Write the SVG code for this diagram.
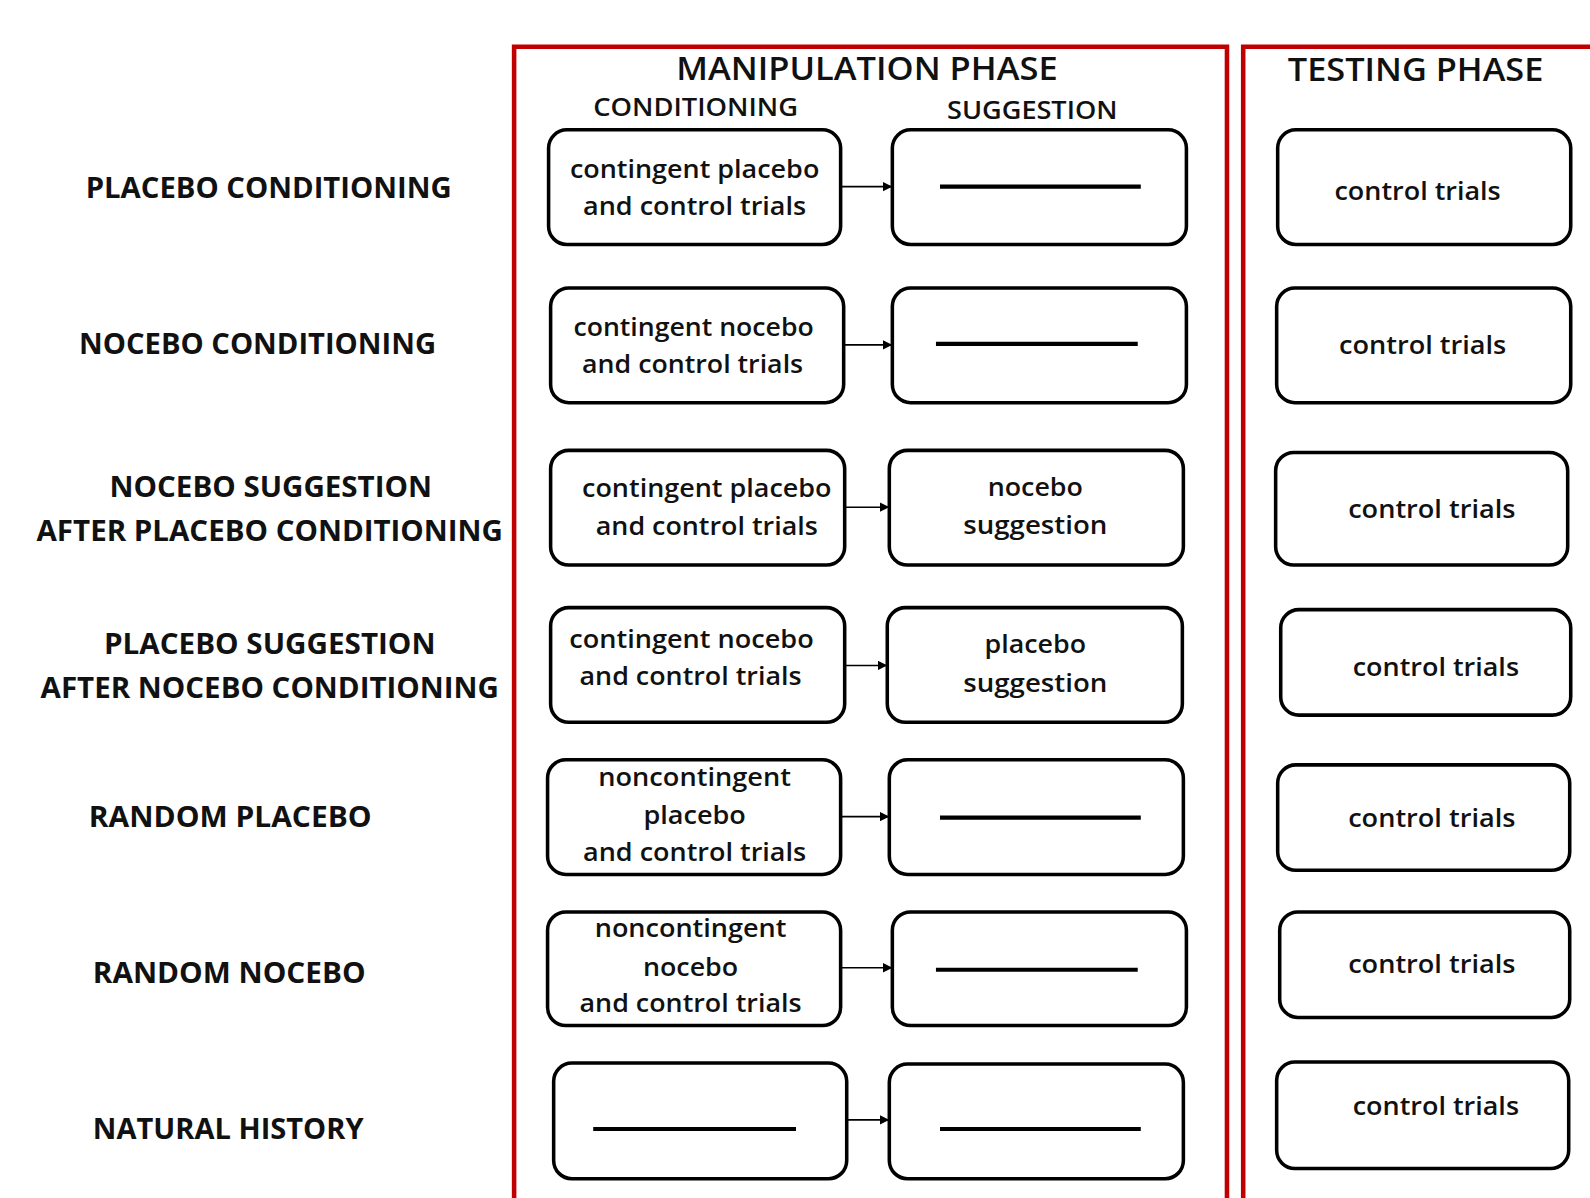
<svg xmlns="http://www.w3.org/2000/svg" width="1590" height="1198" viewBox="0 0 1590 1198">
<defs>
<style>
.frame{fill:none;stroke:#c00000;stroke-width:4.5}
.box{fill:#fff;stroke:#000;stroke-width:3.5}
.dash{stroke:#000;stroke-width:4}
.conn{stroke:#000;stroke-width:1.6;fill:none}
text{font-family:"Open Sans","Liberation Sans",sans-serif;fill:#111;text-anchor:middle}
.lab{font-size:28px;font-weight:700}
.title{font-size:32px;font-weight:600}
.sub{font-size:24px;font-weight:600}
.bt{font-size:25px;font-weight:600}
</style>
<marker id="ah" viewBox="0 0 10 10" refX="10" refY="5" markerWidth="6" markerHeight="6" markerUnits="strokeWidth" orient="auto">
<path d="M0,0 L10,5 L0,10 z" fill="#000"/>
</marker>
</defs>
<rect width="1590" height="1198" fill="#fff"/>
<g transform="scale(1.01403,1.01439)">
<g id="frames">
<path class="frame" d="M507,1200 V46 H1210 V1200"/>
<path class="frame" d="M1226,1200 V46 H1600"/>
<text class="title" x="855" y="79" textLength="376" lengthAdjust="spacingAndGlyphs">MANIPULATION PHASE</text>
<text class="title" x="1396" y="80" textLength="252" lengthAdjust="spacingAndGlyphs">TESTING PHASE</text>
<text class="sub" x="686" y="114" textLength="202" lengthAdjust="spacingAndGlyphs">CONDITIONING</text>
<text class="sub" x="1018" y="117" textLength="168" lengthAdjust="spacingAndGlyphs">SUGGESTION</text>
</g>
<g id="labels">
<text class="lab" x="265" y="195" textLength="361" lengthAdjust="spacingAndGlyphs">PLACEBO CONDITIONING</text>
<text class="lab" x="254" y="349" textLength="352" lengthAdjust="spacingAndGlyphs">NOCEBO CONDITIONING</text>
<text class="lab" x="267" y="490" textLength="318" lengthAdjust="spacingAndGlyphs">NOCEBO SUGGESTION</text>
<text class="lab" x="266" y="533" textLength="460" lengthAdjust="spacingAndGlyphs">AFTER PLACEBO CONDITIONING</text>
<text class="lab" x="266" y="645" textLength="327" lengthAdjust="spacingAndGlyphs">PLACEBO SUGGESTION</text>
<text class="lab" x="266" y="688" textLength="452" lengthAdjust="spacingAndGlyphs">AFTER NOCEBO CONDITIONING</text>
<text class="lab" x="227" y="815" textLength="279" lengthAdjust="spacingAndGlyphs">RANDOM PLACEBO</text>
<text class="lab" x="226" y="969" textLength="269" lengthAdjust="spacingAndGlyphs">RANDOM NOCEBO</text>
<text class="lab" x="225" y="1123" textLength="267" lengthAdjust="spacingAndGlyphs">NATURAL HISTORY</text>
</g>
<g id="connectors">
<line class="conn" x1="829" y1="184" x2="880" y2="184" marker-end="url(#ah)"/>
<line class="conn" x1="832" y1="340" x2="880" y2="340" marker-end="url(#ah)"/>
<line class="conn" x1="833" y1="500" x2="877" y2="500" marker-end="url(#ah)"/>
<line class="conn" x1="833" y1="656" x2="875" y2="656" marker-end="url(#ah)"/>
<line class="conn" x1="829" y1="805" x2="877" y2="805" marker-end="url(#ah)"/>
<line class="conn" x1="829" y1="954" x2="880" y2="954" marker-end="url(#ah)"/>
<line class="conn" x1="835" y1="1104" x2="877" y2="1104" marker-end="url(#ah)"/>
</g>
<g id="row1-cond"><rect class="box" x="541" y="128" width="288" height="113" rx="18"/>
<text class="bt" x="685" y="175" textLength="246" lengthAdjust="spacingAndGlyphs">contingent placebo</text>
<text class="bt" x="685" y="212" textLength="220" lengthAdjust="spacingAndGlyphs">and control trials</text></g>
<g id="row1-sugg"><rect class="box" x="880" y="128" width="290" height="113" rx="18"/><line class="dash" x1="927" y1="184" x2="1125" y2="184"/></g>
<g id="row1-test"><rect class="box" x="1260" y="128" width="289" height="113" rx="18"/>
<text class="bt" x="1398" y="197" textLength="164" lengthAdjust="spacingAndGlyphs">control trials</text></g>

<g id="row2-cond"><rect class="box" x="543" y="284" width="289" height="113" rx="18"/>
<text class="bt" x="684" y="331" textLength="237" lengthAdjust="spacingAndGlyphs">contingent nocebo</text>
<text class="bt" x="683" y="368" textLength="218" lengthAdjust="spacingAndGlyphs">and control trials</text></g>
<g id="row2-sugg"><rect class="box" x="880" y="284" width="290" height="113" rx="18"/><line class="dash" x1="923" y1="339" x2="1122" y2="339"/></g>
<g id="row2-test"><rect class="box" x="1259" y="284" width="290" height="113" rx="18"/>
<text class="bt" x="1403" y="349" textLength="165" lengthAdjust="spacingAndGlyphs">control trials</text></g>

<g id="row3-cond"><rect class="box" x="543" y="444" width="290" height="113" rx="18"/>
<text class="bt" x="697" y="490" textLength="246" lengthAdjust="spacingAndGlyphs">contingent placebo</text>
<text class="bt" x="697" y="527" textLength="219" lengthAdjust="spacingAndGlyphs">and control trials</text></g>
<g id="row3-sugg"><rect class="box" x="877" y="444" width="290" height="113" rx="18"/>
<text class="bt" x="1021" y="489" textLength="94" lengthAdjust="spacingAndGlyphs">nocebo</text>
<text class="bt" x="1021" y="526" textLength="142" lengthAdjust="spacingAndGlyphs">suggestion</text></g>
<g id="row3-test"><rect class="box" x="1258" y="446" width="288" height="111" rx="18"/>
<text class="bt" x="1412" y="511" textLength="165" lengthAdjust="spacingAndGlyphs">control trials</text></g>

<g id="row4-cond"><rect class="box" x="543" y="599" width="290" height="113" rx="18"/>
<text class="bt" x="682" y="639" textLength="241" lengthAdjust="spacingAndGlyphs">contingent nocebo</text>
<text class="bt" x="681" y="675" textLength="219" lengthAdjust="spacingAndGlyphs">and control trials</text></g>
<g id="row4-sugg"><rect class="box" x="875" y="599" width="291" height="113" rx="18"/>
<text class="bt" x="1021" y="644" textLength="100" lengthAdjust="spacingAndGlyphs">placebo</text>
<text class="bt" x="1021" y="682" textLength="142" lengthAdjust="spacingAndGlyphs">suggestion</text></g>
<g id="row4-test"><rect class="box" x="1263" y="601" width="286" height="104" rx="18"/>
<text class="bt" x="1416" y="666" textLength="164" lengthAdjust="spacingAndGlyphs">control trials</text></g>

<g id="row5-cond"><rect class="box" x="540" y="749" width="289" height="113" rx="18"/>
<text class="bt" x="685" y="775" textLength="190" lengthAdjust="spacingAndGlyphs">noncontingent</text>
<text class="bt" x="685" y="812" textLength="101" lengthAdjust="spacingAndGlyphs">placebo</text>
<text class="bt" x="685" y="849" textLength="220" lengthAdjust="spacingAndGlyphs">and control trials</text></g>
<g id="row5-sugg"><rect class="box" x="877" y="749" width="290" height="113" rx="18"/><line class="dash" x1="927" y1="806" x2="1125" y2="806"/></g>
<g id="row5-test"><rect class="box" x="1260" y="754" width="288" height="104" rx="18"/>
<text class="bt" x="1412" y="815" textLength="165" lengthAdjust="spacingAndGlyphs">control trials</text></g>

<g id="row6-cond"><rect class="box" x="540" y="899" width="289" height="112" rx="18"/>
<text class="bt" x="681" y="924" textLength="189" lengthAdjust="spacingAndGlyphs">noncontingent</text>
<text class="bt" x="681" y="962" textLength="94" lengthAdjust="spacingAndGlyphs">nocebo</text>
<text class="bt" x="681" y="998" textLength="219" lengthAdjust="spacingAndGlyphs">and control trials</text></g>
<g id="row6-sugg"><rect class="box" x="880" y="899" width="290" height="112" rx="18"/><line class="dash" x1="923" y1="956" x2="1122" y2="956"/></g>
<g id="row6-test"><rect class="box" x="1262" y="899" width="286" height="104" rx="18"/>
<text class="bt" x="1412" y="959" textLength="165" lengthAdjust="spacingAndGlyphs">control trials</text></g>

<g id="row7-cond"><rect class="box" x="546" y="1048" width="289" height="114" rx="18"/><line class="dash" x1="585" y1="1113" x2="785" y2="1113"/></g>
<g id="row7-sugg"><rect class="box" x="877" y="1049" width="290" height="113" rx="18"/><line class="dash" x1="927" y1="1113" x2="1125" y2="1113"/></g>
<g id="row7-test"><rect class="box" x="1259" y="1047" width="288" height="105" rx="18"/>
<text class="bt" x="1416" y="1099" textLength="164" lengthAdjust="spacingAndGlyphs">control trials</text></g>
</g>
</svg>
